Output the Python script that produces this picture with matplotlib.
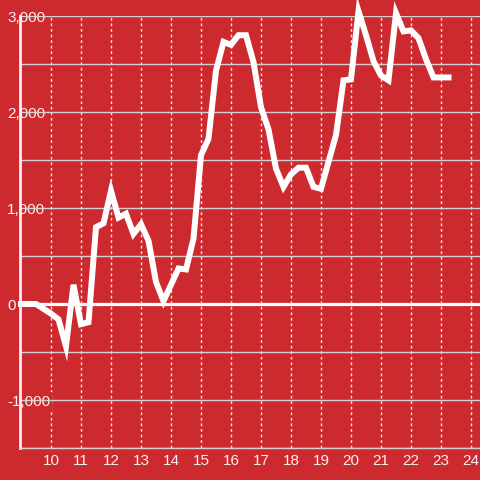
import numpy as np
import matplotlib.pyplot as plt

plt.rcParams['font.family'] = ['Liberation Sans', 'DejaVu Sans']

# --- data (quarter-hour readings) ---
hours = np.arange(9.0, 23.26, 0.25)
values = [0, 0, 0, -50, -100, -160, -440, 200, -210, -190,
          800, 840, 1180, 900, 940, 730, 830, 660, 230, 30,
          200, 370, 360, 680, 1550, 1720, 2430, 2730, 2700, 2800,
          2800, 2520, 2050, 1820, 1410, 1220, 1350, 1420, 1420, 1220,
          1200, 1480, 1760, 2330, 2340, 3050, 2800, 2530, 2380, 2330,
          3030, 2840, 2850, 2770, 2550, 2360, 2360, 2360]
xticks = list(range(10, 25))
yticks = [-1000, 0, 1000, 2000, 3000]
ygrid = [-1500, -1000, -500, 500, 1000, 1500, 2000, 2500, 3000]

bg = '#cd2a2f'
txt = '#fbf0f0'
grey = '#d6d0d0'

fig = plt.figure(figsize=(4.8, 4.8), dpi=100, facecolor=bg)
ax = fig.add_axes([20 / 480, 32 / 480, 460 / 480, 432 / 480], facecolor=bg)

ax.set_xlim(8.967, 24.3)
ax.set_ylim(-1500, 3000)

# grid lines
for g in ygrid:
    ax.axhline(g, color=grey, lw=1, zorder=1)
ax.axhline(0, color='white', lw=2.3, zorder=1.2)
ax.set_xticks(xticks)
ax.grid(axis='x', color='#f0e0e0', lw=1, linestyle=(0, (2, 2)), zorder=1)
ax.set_axisbelow(True)

# data line
ax.plot(hours, values, color='white', lw=4.3, solid_joinstyle='miter',
        solid_capstyle='projecting', clip_on=False, zorder=3)

# spines
for s in ['top', 'right']:
    ax.spines[s].set_visible(False)
ax.spines['bottom'].set_color(grey)
ax.spines['bottom'].set_linewidth(1)
ax.spines['left'].set_color('#f4f0f0')
ax.spines['left'].set_linewidth(2)
ax.spines['left'].set_zorder(1.5)

# ticks and labels
ax.set_yticks(yticks, [f'{v:,}' for v in yticks])
ax.tick_params(axis='y', length=0, pad=9.2, labelsize=11, labelcolor=txt)
for lbl in ax.get_yticklabels():
    lbl.set_horizontalalignment('left')
    lbl.set_bbox(dict(facecolor=bg, edgecolor='none', pad=1.5))
ax.tick_params(axis='x', length=0, pad=4.5, labelsize=11, labelcolor=txt)

fig.savefig('out.png', dpi=100, facecolor=bg)
